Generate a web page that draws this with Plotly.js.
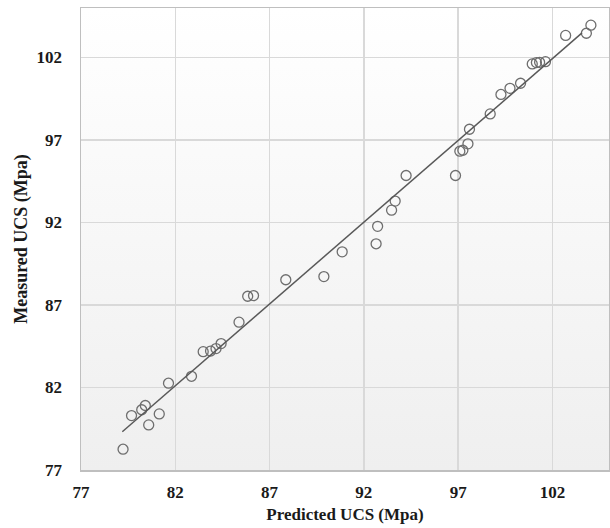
<!DOCTYPE html>
<html>
<head>
<meta charset="utf-8">
<script src="https://cdn.plot.ly/plotly-3.0.1.min.js"></script>
<style>html,body{margin:0;padding:0;background:#fff;}#chart{width:610px;height:528px;}</style>
</head>
<body>
<div id="chart"></div>
<script>
const predicted = [79.23, 79.68, 80.22, 80.41, 80.59, 81.15, 81.64, 82.86, 83.48, 83.87,
  84.16, 84.43, 85.38, 85.84, 86.15, 87.86, 89.88, 90.85, 92.65, 92.73,
  93.47, 93.66, 94.24, 96.86, 97.09, 97.25, 97.52, 97.60, 98.70, 99.27,
  99.75, 100.31, 100.93, 101.15, 101.32, 101.63, 102.70, 103.80, 104.04];
const measured = [78.26, 80.30, 80.65, 80.91, 79.73, 80.40, 82.26, 82.68, 84.17, 84.21,
  84.36, 84.66, 85.96, 87.53, 87.57, 88.53, 88.72, 90.22, 90.71, 91.77,
  92.75, 93.30, 94.85, 94.85, 96.32, 96.38, 96.77, 97.65, 98.58, 99.76,
  100.13, 100.44, 101.61, 101.69, 101.71, 101.75, 103.34, 103.47, 103.96];
const trendX = [79.19, 103.57];
const trendY = [79.32, 103.49];
const tickVals = [77, 82, 87, 92, 97, 102];
const tickText = ['77', '82', '87', '92', '97', '102'];

const grad = 'data:image/svg+xml;utf8,' + encodeURIComponent(
  '<svg xmlns="http://www.w3.org/2000/svg" width="100" height="100" preserveAspectRatio="none">' +
  '<defs><linearGradient id="g" x1="0" y1="0" x2="0" y2="1">' +
  '<stop offset="0" stop-color="#ffffff"/><stop offset="1" stop-color="#efefef"/>' +
  '</linearGradient></defs><rect width="100" height="100" fill="url(#g)"/></svg>');

const fontFam = '"Liberation Serif", "DejaVu Serif", serif';

const traces = [
  {
    x: predicted, y: measured, type: 'scatter', mode: 'markers',
    marker: {symbol: 'circle-open', size: 10, color: '#6e6e6e', line: {width: 1.3, color: '#6e6e6e'}},
    hoverinfo: 'x+y', showlegend: false
  },
  {
    x: trendX, y: trendY, type: 'scatter', mode: 'lines',
    line: {color: '#595959', width: 1.5}, showlegend: false, hoverinfo: 'skip'
  }
];

const axisCommon = {
  range: [77, 105], tickvals: tickVals, ticktext: tickText,
  showgrid: true, gridcolor: '#d9d9d9', gridwidth: 1.3,
  showline: true, linecolor: '#bfbfbf', linewidth: 1.5, mirror: true,
  zeroline: false, ticks: '',
  tickfont: {family: fontFam, size: 17, color: '#1a1a1a', weight: 'bold'}
};

const layout = {
  width: 610, height: 528,
  margin: {l: 81, r: 1, t: 8, b: 58},
  paper_bgcolor: '#ffffff', plot_bgcolor: 'rgba(0,0,0,0)',
  font: {family: fontFam, color: '#1a1a1a'},
  xaxis: Object.assign({}, axisCommon, {
    ticklabelstandoff: 6,
    title: {text: 'Predicted UCS (Mpa)', standoff: 7,
      font: {family: fontFam, size: 17, color: '#1a1a1a', weight: 'bold'}}
  }),
  yaxis: Object.assign({}, axisCommon, {
    ticklabelstandoff: 14,
    title: {text: 'Measured UCS (Mpa)', standoff: 4,
      font: {family: fontFam, size: 18, color: '#1a1a1a', weight: 'bold'}}
  }),
  images: [{source: grad, xref: 'paper', yref: 'paper', x: 0, y: 1, sizex: 1, sizey: 1,
    sizing: 'stretch', layer: 'below', xanchor: 'left', yanchor: 'top'}]
};

Plotly.newPlot('chart', traces, layout, {displayModeBar: false, staticPlot: true});
</script>
</body>
</html>
